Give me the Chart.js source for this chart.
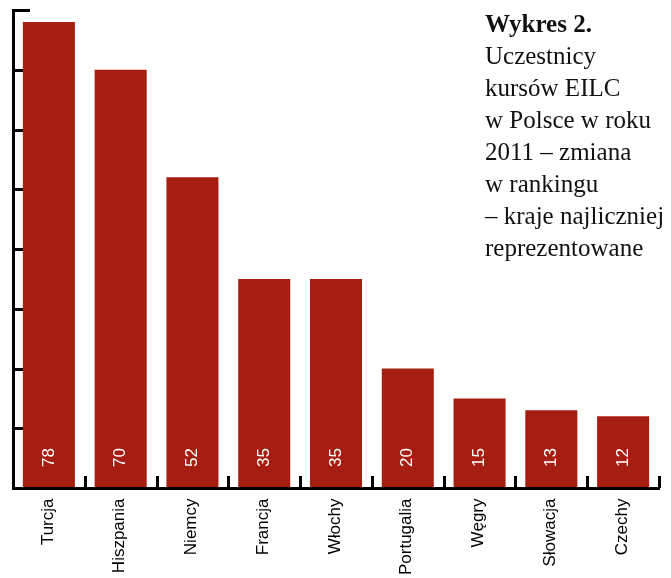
<!DOCTYPE html>
<html lang="pl">
<head>
<meta charset="utf-8">
<title>Wykres 2.</title>
<script src="https://cdn.jsdelivr.net/npm/chart.js@4.4.1/dist/chart.umd.min.js"></script>
<style>
  html, body { margin: 0; padding: 0; background: #fff; }
  #wrap { position: relative; width: 671px; height: 578px; }
  #title {
    position: absolute;
    left: 485px;
    top: 8px;
    font-family: "Liberation Serif", "DejaVu Serif", serif;
    font-size: 25px;
    line-height: 32px;
    color: #111;
    white-space: nowrap;
  }
  #title b { font-weight: bold; }
</style>
</head>
<body>
<div id="wrap">
  <canvas id="chart" width="671" height="578"></canvas>
  <div id="title">
    <b>Wykres 2.</b><br>
    Uczestnicy<br>
    kursów EILC<br>
    w Polsce w roku<br>
    2011 – zmiana<br>
    w rankingu<br>
    – kraje najliczniej<br>
    reprezentowane
  </div>
</div>
<script>
// ----- Data -----
const countries = ["Turcja", "Hiszpania", "Niemcy", "Francja", "Włochy", "Portugalia", "Węgry", "Słowacja", "Czechy"];
const participants = [78, 70, 52, 35, 35, 20, 15, 13, 12];
const yTicks = [0, 10, 20, 30, 40, 50, 60, 70, 80];

const barColor = "#a61e12";
const sansFont = '"Liberation Sans", Arial, sans-serif';

// ----- Axes, ticks and labels drawn from the scales -----
const axesPlugin = {
  id: "axesPlugin",
  beforeDatasetsDraw(chart) {
    const ctx = chart.ctx;
    const x = chart.scales.x;
    const y = chart.scales.y;
    const left = chart.chartArea.left;
    const base = y.getPixelForValue(0);

    ctx.save();
    ctx.strokeStyle = "#000";
    ctx.lineWidth = 3;

    // y ticks pointing inward
    yTicks.forEach(v => {
      const py = Math.round(y.getPixelForValue(v)) + 0.5;
      ctx.beginPath();
      ctx.moveTo(left, py);
      ctx.lineTo(left + 17, py);
      ctx.stroke();
    });

    // x ticks between categories, pointing up
    const step = (chart.chartArea.right - left) / countries.length;
    for (let i = 1; i <= countries.length; i++) {
      const px = Math.round(x.getPixelForValue(i - 1) + step / 2) + 0.5;
      ctx.beginPath();
      ctx.moveTo(px, base);
      ctx.lineTo(px, base - 12);
      ctx.stroke();
    }
    ctx.restore();
  },
  afterDatasetsDraw(chart) {
    const ctx = chart.ctx;
    const x = chart.scales.x;
    const y = chart.scales.y;
    const left = chart.chartArea.left + 0.5;
    const right = chart.chartArea.right + 1;
    const base = Math.round(y.getPixelForValue(0)) + 0.5;
    const top = y.getPixelForValue(80) - 1;

    ctx.save();
    ctx.strokeStyle = "#000";
    ctx.lineWidth = 3;
    ctx.beginPath();
    ctx.moveTo(left, top);
    ctx.lineTo(left, base);
    ctx.lineTo(right, base);
    ctx.stroke();

    ctx.font = "17px " + sansFont;
    countries.forEach((name, i) => {
      const px = x.getPixelForValue(i);

      // value inside the bar
      ctx.save();
      ctx.translate(px, base - 31);
      ctx.rotate(-Math.PI / 2);
      ctx.fillStyle = "#fff";
      ctx.textAlign = "center";
      ctx.textBaseline = "middle";
      ctx.fillText(String(participants[i]), 0, 0);
      ctx.restore();

      // category label under the axis
      ctx.save();
      ctx.translate(px - 1, base + 10);
      ctx.rotate(-Math.PI / 2);
      ctx.fillStyle = "#000";
      ctx.textAlign = "right";
      ctx.textBaseline = "middle";
      ctx.fillText(name, 0, 0);
      ctx.restore();
    });
    ctx.restore();
  }
};

// ----- Chart -----
new Chart(document.getElementById("chart"), {
  type: "bar",
  data: {
    labels: countries,
    datasets: [{
      label: "Uczestnicy",
      data: participants,
      backgroundColor: barColor,
      borderWidth: 0,
      barPercentage: 0.725,
      categoryPercentage: 1.0
    }]
  },
  options: {
    responsive: false,
    animation: false,
    layout: { padding: { left: 13, right: 12, top: 10, bottom: 90 } },
    plugins: {
      legend: { display: false },
      tooltip: { enabled: false }
    },
    scales: {
      x: { display: false },
      y: { display: false, min: 0, max: 80 }
    }
  },
  plugins: [axesPlugin]
});
</script>
</body>
</html>
